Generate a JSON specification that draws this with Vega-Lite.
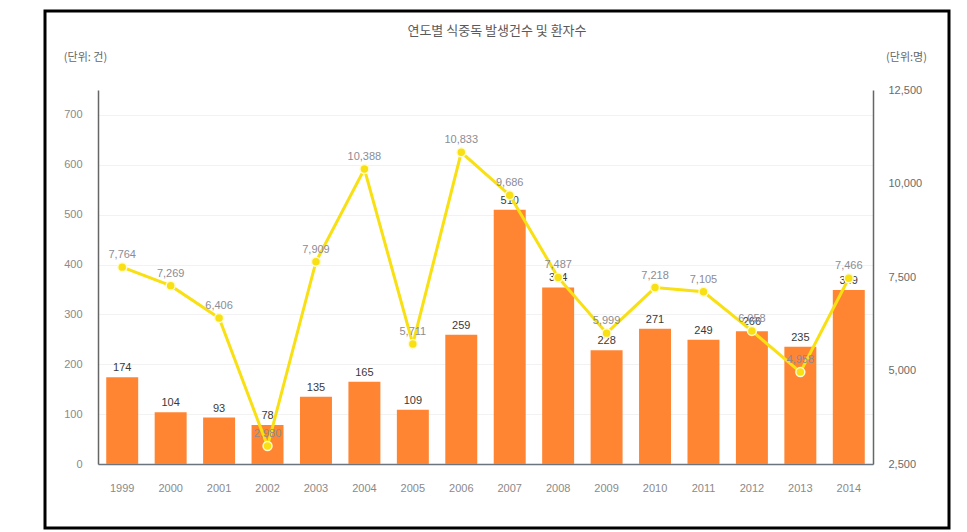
{
  "$schema": "https://vega.github.io/schema/vega-lite/v6.json",
  "width": 904,
  "height": 517,
  "autosize": {"type": "none"},
  "padding": {"left": 45, "top": 11, "right": 18, "bottom": 4},
  "background": "white",
  "config": {
    "view": {"stroke": "#000000", "strokeWidth": 3},
    "font": "Liberation Sans",
    "axis": {"labelFont": "Liberation Sans", "titleFont": "Noto Sans CJK KR"}
  },
  "title": {
    "text": "연도별 식중독 발생건수 및 환자수",
    "anchor": "middle",
    "offset": -33,
    "baseline": "middle",
    "font": "Noto Sans CJK KR",
    "fontSize": 13,
    "fontWeight": "normal",
    "color": "#5a5a5a"
  },
  "data": {
    "values": [
      {"year": "1999", "cases": 174, "patients": 7764},
      {"year": "2000", "cases": 104, "patients": 7269},
      {"year": "2001", "cases": 93, "patients": 6406},
      {"year": "2002", "cases": 78, "patients": 2980},
      {"year": "2003", "cases": 135, "patients": 7909},
      {"year": "2004", "cases": 165, "patients": 10388},
      {"year": "2005", "cases": 109, "patients": 5711},
      {"year": "2006", "cases": 259, "patients": 10833},
      {"year": "2007", "cases": 510, "patients": 9686},
      {"year": "2008", "cases": 354, "patients": 7487},
      {"year": "2009", "cases": 228, "patients": 5999},
      {"year": "2010", "cases": 271, "patients": 7218},
      {"year": "2011", "cases": 249, "patients": 7105},
      {"year": "2012", "cases": 266, "patients": 6058},
      {"year": "2013", "cases": 235, "patients": 4958},
      {"year": "2014", "cases": 349, "patients": 7466}
    ]
  },
  "encoding": {
    "x": {
      "field": "year",
      "type": "ordinal",
      "scale": {"range": [53, 828], "paddingInner": 0.34, "paddingOuter": 0.17},
      "axis": {
        "title": null,
        "offset": -64,
        "labelAngle": 0,
        "ticks": false,
        "labelPadding": 18,
        "labelColor": "#8a8a8a",
        "labelFontSize": 11,
        "domainColor": "#6a7580",
        "domainWidth": 1.5,
        "grid": false
      }
    }
  },
  "layer": [
    {
      "encoding": {
        "y": {
          "field": "cases",
          "type": "quantitative",
          "scale": {"domain": [0, 750], "range": [453, 79], "nice": false, "zero": true},
          "axis": {
            "orient": "left",
            "offset": -53,
            "values": [0, 100, 200, 300, 400, 500, 600, 700],
            "ticks": false,
            "labelPadding": 16,
            "labelColor": "#8a8a8a",
            "labelFontSize": 11,
            "domainColor": "#666666",
            "domainWidth": 1.5,
            "grid": true,
            "gridColor": "#f2f2f2",
            "title": "(단위: 건)",
            "titleAngle": 0,
            "titleX": -13,
            "titleY": 46,
            "titleAlign": "center",
            "titleBaseline": "middle",
            "titleFontWeight": "normal",
            "titleFontSize": 11,
            "titleColor": "#666666"
          }
        }
      },
      "layer": [
        {"mark": {"type": "bar", "color": "#FF8533"}},
        {
          "mark": {"type": "text", "baseline": "bottom", "dy": -4, "fontSize": 11, "color": "#3a3a3a"},
          "encoding": {"text": {"field": "cases", "type": "quantitative"}}
        }
      ]
    },
    {
      "encoding": {
        "y": {
          "field": "patients",
          "type": "quantitative",
          "scale": {"domain": [2500, 12500], "range": [453, 79], "nice": false, "zero": false},
          "axis": {
            "orient": "right",
            "offset": -76,
            "values": [2500, 5000, 7500, 10000, 12500],
            "labelExpr": "format(datum.value, ',.0f')",
            "ticks": false,
            "labelPadding": 15,
            "labelColor": "#6a6a6a",
            "labelFontSize": 11,
            "domainColor": "#666666",
            "domainWidth": 1.5,
            "grid": false,
            "title": "(단위:명)",
            "titleAngle": 0,
            "titleX": 33,
            "titleY": 46,
            "titleAlign": "center",
            "titleBaseline": "middle",
            "titleFontWeight": "normal",
            "titleFontSize": 11,
            "titleColor": "#666666"
          }
        }
      },
      "layer": [
        {"mark": {"type": "line", "color": "#F8E012", "strokeWidth": 3}},
        {"mark": {"type": "point", "filled": true, "fill": "#F8E012", "size": 80, "stroke": "#fffbd0", "strokeWidth": 1.5, "opacity": 1}},
        {
          "mark": {"type": "text", "baseline": "bottom", "dy": -7, "fontSize": 11, "color": "#8c8c94"},
          "encoding": {"text": {"field": "patients", "type": "quantitative", "format": ","}}
        }
      ]
    }
  ],
  "resolve": {"scale": {"y": "independent"}}
}
